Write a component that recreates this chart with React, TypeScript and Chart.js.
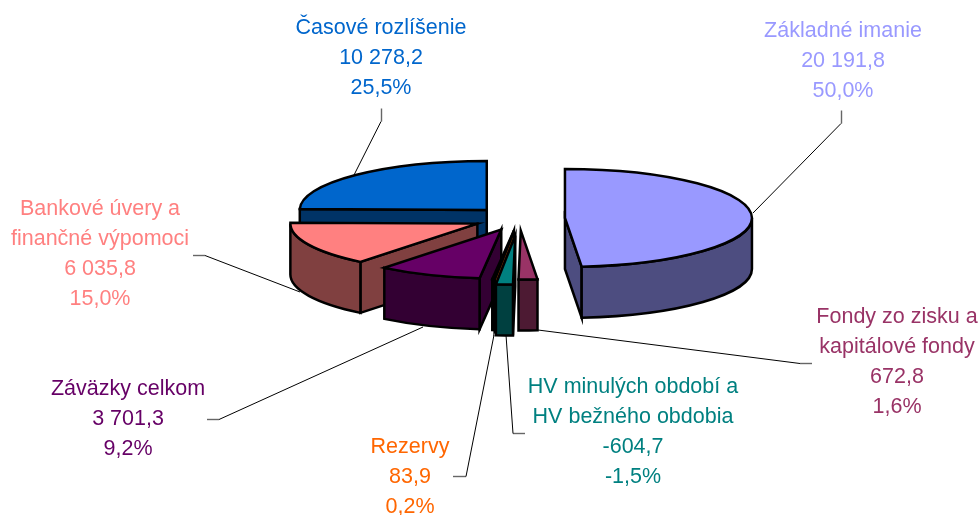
import React, { useEffect, useRef } from "react";
import { Chart, registerables } from "chart.js";

Chart.register(...registerables);

// ---- data ----
const categories = [
  "Základné imanie",
  "Fondy zo zisku a kapitálové fondy",
  "HV minulých období a HV bežného obdobia",
  "Rezervy",
  "Záväzky celkom",
  "Bankové úvery a finančné výpomoci",
  "Časové rozlíšenie",
];
const values = [20191.8, 672.8, -604.7, 83.9, 3701.3, 6035.8, 10278.2];
const valueLabels = ["20 191,8", "672,8", "-604,7", "83,9", "3 701,3", "6 035,8", "10 278,2"];
const percentLabels = ["50,0%", "1,6%", "-1,5%", "0,2%", "9,2%", "15,0%", "25,5%"];
const topColors = ["#9999FF", "#993366", "#008080", "#FF6600", "#660066", "#FF8080", "#0066CC"];
const wallColors = ["#4D4D80", "#4D1A33", "#004040", "#803300", "#330033", "#804040", "#003366"];
const labelColors = ["#9999FF", "#993366", "#008080", "#FF6600", "#660066", "#FF8080", "#0066CC"];
const explode = [46, 46, 65, 46, 46, 46, 46];

// ---- layout of the labels and leader lines (not data) ----
const categoryLines = [
  ["Základné imanie"],
  ["Fondy zo zisku a", "kapitálové fondy"],
  ["HV minulých období a", "HV bežného obdobia"],
  ["Rezervy"],
  ["Záväzky celkom"],
  ["Bankové úvery a", "finančné výpomoci"],
  ["Časové rozlíšenie"],
];
const labelAnchors = [
  [843, 31], [897, 317], [633, 387], [410, 447], [128, 389], [100, 209], [381, 28],
];
const leaders: number[][][] = [
  [[841, 110], [841, 123], [753, 213]],
  [[812, 363], [800, 363], [538, 330]],
  [[525, 433], [513, 433], [506, 335]],
  [[453, 476], [466, 476], [494, 335]],
  [[207, 419], [219, 419], [423, 327]],
  [[193, 255], [205, 255], [300, 292]],
  [[381, 108], [381, 121], [354, 175]],
];
const paintOrder = [6, 0, 5, 4, 3, 1, 2];
const SQUASH = 0.262;
const DEPTH = 51;
const FONT = '21.5px "Liberation Sans", Arial, sans-serif';
const LINE_STEP = 30;

const pie3d = {
  id: "pie3d",
  beforeDatasetsDraw(chart: any) {
    const ctx: CanvasRenderingContext2D = chart.ctx;
    const arcs = chart.getDatasetMeta(0).data;

    ctx.save();
    leaders.forEach((pts) => {
      const nudge = pts[0][0] === pts[1][0] ? 0.5 : 0;
      ctx.strokeStyle = "#666666";
      ctx.lineWidth = 1.4;
      ctx.beginPath();
      ctx.moveTo(pts[0][0] + nudge, pts[0][1] + 0.5);
      ctx.lineTo(pts[1][0] + nudge, pts[1][1] + 0.5);
      ctx.stroke();
      ctx.strokeStyle = "#000";
      ctx.lineWidth = 1;
      ctx.beginPath();
      ctx.moveTo(pts[1][0], pts[1][1] + 0.5);
      ctx.lineTo(pts[2][0], pts[2][1]);
      ctx.stroke();
    });

    ctx.lineWidth = 2.5;
    ctx.lineJoin = "miter";
    ctx.strokeStyle = "#000";
    const deg90 = 0;
    const deg270 = Math.PI;
    paintOrder.forEach((i) => {
      const arc = arcs[i];
      const R = arc.outerRadius;
      const Ry = R * SQUASH;
      const a = arc.startAngle;
      const b = arc.endAngle;
      const mid = (a + b) / 2;
      const off = explode[i];
      const cx = arc.x + Math.cos(mid) * off;
      const cy = arc.y + Math.sin(mid) * off * SQUASH;
      const px = (t: number) => cx + Math.cos(t) * R;
      const py = (t: number) => cy + Math.sin(t) * Ry;

      ctx.fillStyle = wallColors[i];
      // radial wall at the start angle (faces the viewer when it lies left of centre)
      const radial = (t: number) => {
        ctx.beginPath();
        ctx.moveTo(cx, cy);
        ctx.lineTo(px(t), py(t));
        ctx.lineTo(px(t), py(t) + DEPTH);
        ctx.lineTo(cx, cy + DEPTH);
        ctx.closePath();
        ctx.fill();
        ctx.stroke();
      };
      if (Math.cos(a) < -1e-6) radial(a);
      if (Math.cos(b) > 1e-6) radial(b);

      // outer wall: only the front half of the rim
      const f0 = Math.max(a, deg90);
      const f1 = Math.min(b, deg270);
      if (f1 > f0) {
        ctx.beginPath();
        ctx.ellipse(cx, cy, R, Ry, 0, f0, f1);
        ctx.lineTo(px(f1), py(f1) + DEPTH);
        ctx.ellipse(cx, cy + DEPTH, R, Ry, 0, f1, f0, true);
        ctx.closePath();
        ctx.fill();
        ctx.stroke();
      }

      // top face
      ctx.fillStyle = topColors[i];
      ctx.beginPath();
      ctx.moveTo(cx, cy);
      ctx.ellipse(cx, cy, R, Ry, 0, a, b);
      ctx.closePath();
      ctx.fill();
      ctx.stroke();
    });

    // labels
    ctx.font = FONT;
    ctx.textAlign = "center";
    ctx.textBaseline = "middle";
    categories.forEach((_, i) => {
      const lines = [...categoryLines[i], valueLabels[i], percentLabels[i]];
      ctx.fillStyle = labelColors[i];
      lines.forEach((l, k) => {
        ctx.fillText(l, labelAnchors[i][0], labelAnchors[i][1] + k * LINE_STEP);
      });
    });
    ctx.restore();
    return false;
  },
};

export default function App() {
  const ref = useRef<HTMLCanvasElement>(null);
  useEffect(() => {
    const chart = new Chart(ref.current!, {
      type: "pie",
      data: {
        labels: categories,
        datasets: [{ data: values, backgroundColor: topColors, borderWidth: 0 }],
      },
      options: {
        animation: false,
        responsive: false,
        radius: 187,
        layout: { padding: { left: 58, bottom: 78 } },
        plugins: { legend: { display: false }, tooltip: { enabled: false }, title: { display: false } },
      } as any,
      plugins: [pie3d as any],
    });
    return () => chart.destroy();
  }, []);
  return (
    <div style={{ position: "fixed", left: 0, top: 0, width: 980, height: 515, background: "#fff" }}>
      <canvas ref={ref} width={980} height={515} style={{ display: "block" }} />
    </div>
  );
}
